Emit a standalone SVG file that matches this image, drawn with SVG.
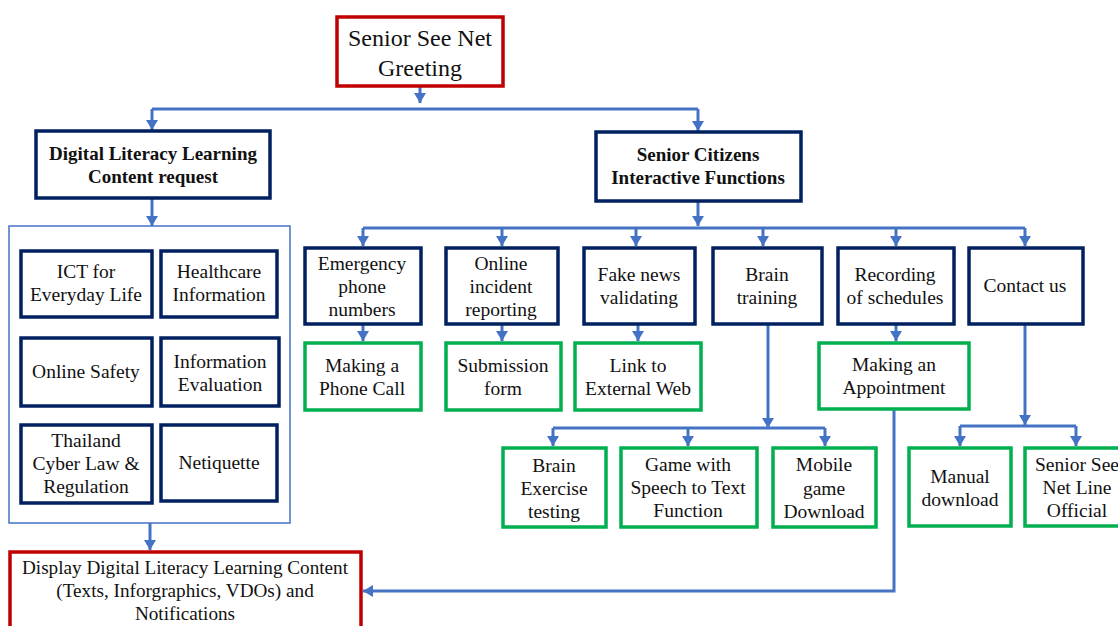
<svg xmlns="http://www.w3.org/2000/svg" width="1118" height="626" viewBox="0 0 1118 626">
<defs>
<marker id="ah" markerUnits="userSpaceOnUse" markerWidth="12" markerHeight="12" viewBox="0 0 12 12" refX="10" refY="6" orient="auto">
<path d="M0,0 L10,6 L0,12 z" fill="#4472C4"/>
</marker>
</defs>
<style>
.t{font-family:"Liberation Serif","Times New Roman",serif;font-size:19.5px;fill:#111;text-anchor:middle}
.b{font-weight:bold;font-size:19px}
.navy{fill:#fff;stroke:#002060;stroke-width:3.5}
.green{fill:#fff;stroke:#00B050;stroke-width:3.5}
.red{fill:#fff;stroke:#C00000;stroke-width:3.5}
.c{fill:none;stroke:#4472C4;stroke-width:3}
.ca{fill:none;stroke:#4472C4;stroke-width:3;marker-end:url(#ah)}
</style>
<rect width="1118" height="626" fill="#fff"/>
<g id="connectors">
<path class="ca" d="M420,86 V103"/>
<path class="c" d="M152,109 H698"/>
<path class="ca" d="M152,109 V130"/>
<path class="ca" d="M698,109 V131"/>
<path class="ca" d="M152,198 V226"/>
<rect x="9" y="226" width="281" height="297" fill="none" stroke="#4472C4" stroke-width="1.5"/>
<path class="ca" d="M150,523 V550"/>
<path class="ca" d="M698,201 V226"/>
<path class="c" d="M363,228 H1025"/>
<path class="ca" d="M363,228 V246"/>
<path class="ca" d="M502,228 V246"/>
<path class="ca" d="M636,228 V246"/>
<path class="ca" d="M763,228 V246"/>
<path class="ca" d="M896,228 V246"/>
<path class="ca" d="M1025,228 V246"/>
<path class="ca" d="M363,324 V341"/>
<path class="ca" d="M502,324 V341"/>
<path class="ca" d="M638,324 V341"/>
<path class="ca" d="M896,324 V341"/>
<path class="ca" d="M768,324 V428"/>
<path class="c" d="M553,428 H825"/>
<path class="ca" d="M553,428 V446"/>
<path class="ca" d="M688,428 V446"/>
<path class="ca" d="M825,428 V446"/>
<path class="ca" d="M1025,324 V425"/>
<path class="c" d="M960,426 H1076"/>
<path class="ca" d="M960,426 V446"/>
<path class="ca" d="M1076,426 V446"/>
<path class="ca" d="M894,409 V591 H363"/>
</g>
<g id="greeting"><rect class="red" x="337" y="17" width="166" height="69"/>
<text class="t" x="420" y="46" style="font-size:24px">Senior See Net</text><text class="t" x="420" y="76" style="font-size:24px">Greeting</text></g>
<g id="dl-request"><rect class="navy" x="36" y="131" width="234" height="67"/>
<text class="t b" x="153" y="160">Digital Literacy Learning</text><text class="t b" x="153" y="183">Content request</text></g>
<g id="sc-functions"><rect class="navy" x="596" y="132" width="205" height="69"/>
<text class="t b" x="698" y="161">Senior Citizens</text><text class="t b" x="698" y="184">Interactive Functions</text></g>
<g id="ict"><rect class="navy" x="21" y="251" width="131" height="66"/>
<text class="t" x="86" y="278">ICT for</text><text class="t" x="86" y="301">Everyday Life</text></g>
<g id="health"><rect class="navy" x="161" y="251" width="116" height="66"/>
<text class="t" x="219" y="278">Healthcare</text><text class="t" x="219" y="301">Information</text></g>
<g id="safety"><rect class="navy" x="21" y="338" width="131" height="68"/>
<text class="t" x="86" y="378">Online Safety</text></g>
<g id="evaluation"><rect class="navy" x="161" y="338" width="118" height="68"/>
<text class="t" x="220" y="368">Information</text><text class="t" x="220" y="391">Evaluation</text></g>
<g id="law"><rect class="navy" x="21" y="425" width="131" height="78"/>
<text class="t" x="86" y="447">Thailand</text><text class="t" x="86" y="470">Cyber Law &amp;</text><text class="t" x="86" y="493">Regulation</text></g>
<g id="netiquette"><rect class="navy" x="161" y="425" width="116" height="76"/>
<text class="t" x="219" y="469">Netiquette</text></g>
<g id="display"><rect class="red" x="10" y="552" width="351" height="80"/>
<text class="t" x="185" y="574" style="font-size:19.2px">Display Digital Literacy Learning Content</text><text class="t" x="185" y="597" style="font-size:19.2px">(Texts, Inforgraphics, VDOs) and</text><text class="t" x="185" y="620" style="font-size:19.2px">Notifications</text></g>
<g id="emergency"><rect class="navy" x="305" y="248" width="116" height="76"/>
<text class="t" x="362" y="270">Emergency</text><text class="t" x="362" y="293">phone</text><text class="t" x="362" y="316">numbers</text></g>
<g id="incident"><rect class="navy" x="446" y="248" width="112" height="76"/>
<text class="t" x="501" y="270">Online</text><text class="t" x="501" y="293">incident</text><text class="t" x="501" y="316">reporting</text></g>
<g id="fakenews"><rect class="navy" x="584" y="248" width="111" height="76"/>
<text class="t" x="639" y="281">Fake news</text><text class="t" x="639" y="304">validating</text></g>
<g id="brain"><rect class="navy" x="713" y="248" width="109" height="76"/>
<text class="t" x="767" y="281">Brain</text><text class="t" x="767" y="304">training</text></g>
<g id="recording"><rect class="navy" x="838" y="248" width="116" height="76"/>
<text class="t" x="895" y="281">Recording</text><text class="t" x="895" y="304">of schedules</text></g>
<g id="contact"><rect class="navy" x="969" y="248" width="114" height="76"/>
<text class="t" x="1025" y="292">Contact us</text></g>
<g id="phonecall"><rect class="green" x="305" y="343" width="116" height="67"/>
<text class="t" x="362" y="372">Making a</text><text class="t" x="362" y="395">Phone Call</text></g>
<g id="submission"><rect class="green" x="446" y="343" width="115" height="67"/>
<text class="t" x="503" y="372">Submission</text><text class="t" x="503" y="395">form</text></g>
<g id="externalweb"><rect class="green" x="575" y="343" width="126" height="67"/>
<text class="t" x="638" y="372">Link to</text><text class="t" x="638" y="395">External Web</text></g>
<g id="appointment"><rect class="green" x="819" y="343" width="150" height="66"/>
<text class="t" x="894" y="371">Making an</text><text class="t" x="894" y="394">Appointment</text></g>
<g id="brainexercise"><rect class="green" x="503" y="448" width="103" height="79"/>
<text class="t" x="554" y="472">Brain</text><text class="t" x="554" y="495">Exercise</text><text class="t" x="554" y="518">testing</text></g>
<g id="speechgame"><rect class="green" x="621" y="448" width="136" height="79"/>
<text class="t" x="688" y="471">Game with</text><text class="t" x="688" y="494">Speech to Text</text><text class="t" x="688" y="517">Function</text></g>
<g id="mobilegame"><rect class="green" x="773" y="448" width="103" height="79"/>
<text class="t" x="824" y="471">Mobile</text><text class="t" x="824" y="495">game</text><text class="t" x="824" y="518">Download</text></g>
<g id="manual"><rect class="green" x="909" y="448" width="102" height="78"/>
<text class="t" x="960" y="483">Manual</text><text class="t" x="960" y="506">download</text></g>
<g id="lineofficial"><rect class="green" x="1025" y="448" width="100" height="78"/>
<text class="t" x="1077" y="471">Senior See</text><text class="t" x="1077" y="494">Net Line</text><text class="t" x="1077" y="517">Official</text></g>
</svg>
